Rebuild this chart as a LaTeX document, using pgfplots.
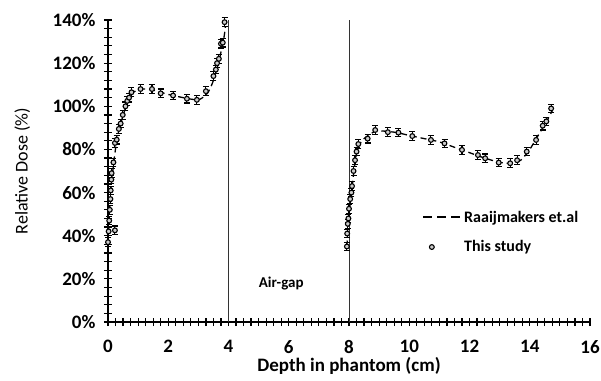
\documentclass[border=0pt]{standalone}
\usepackage{pgfplots}
\pgfplotsset{compat=1.18}
\usepackage{fontspec}
\setmainfont{Carlito}
\begin{document}
\begin{tikzpicture}
\path[use as bounding box] (-108pt,-58pt) rectangle (493pt,322pt);
\begin{axis}[
  at={(0pt,0pt)}, anchor=south west,
  scale only axis, width=482pt, height=302pt,
  xmin=0, xmax=16, ymin=0, ymax=140,
  axis lines=left, axis line style={-, line width=1.3pt},
  xtick={0,2,...,16}, ytick={0,20,...,140},
  minor x tick num=7, minor y tick num=4,
  tick align=center,
  major tick length=8pt, minor tick length=8pt,
  every tick/.style={black, line width=1.2pt},
  /pgf/number format/assume math mode=true,
  yticklabel={\pgfmathprintnumber{\tick}\%},
  ticklabel style={font=\bfseries\fontsize{19}{19}\selectfont},
  xticklabel style={yshift=-11pt},
  yticklabel style={xshift=-5pt},
  xlabel={\bfseries Depth in phantom (cm)},
  xlabel style={font=\fontsize{19}{19}\selectfont, at={(axis description cs:0.5,0)}, anchor=center, yshift=-44pt},
  ylabel={Relative Dose (\%)},
  ylabel style={font=\fontsize{18}{18}\selectfont, at={(axis description cs:-0.178,0.5)}, anchor=center},
  clip=false,
  legend cell align=left,
  legend style={draw=none, fill=none, inner sep=0pt, at={(axis cs:10.43,52.5)}, anchor=north west,
    font=\bfseries\fontsize{16}{16}\selectfont, row sep=13pt,
    /tikz/every even column/.append style={column sep=3pt}},
]
% vertical separators
\addplot[black!80, line width=0.8pt, forget plot] coordinates {(4,0) (4,140)};
\addplot[black!80, line width=0.8pt, forget plot] coordinates {(8,0) (8,140)};
% Raaijmakers (dashed)
\addplot[black, line width=1.3pt, dash pattern=on 6pt off 4pt, smooth, tension=0.4,
  legend image code/.code={\draw[black, line width=1.8pt, dash pattern=on 9pt off 5pt] (0pt,0pt) -- (38pt,0pt);}]
coordinates {
(0,37) (0.05,50) (0.1,62) (0.2,75) (0.3,85) (0.4,91) (0.6,100) (0.8,106) (1.1,108) (1.5,107.5) (2,105.5) (2.5,104) (3,103) (3.3,106) (3.5,112) (3.7,122) (3.85,132) (3.9,137)
};
\addlegendentry{Raaijmakers et.al}
\addplot[black, line width=1.3pt, dash pattern=on 6pt off 4pt, smooth, tension=0.4, forget plot]
coordinates {
(7.93,35) (8.0,50) (8.1,62) (8.2,74) (8.3,81) (8.5,85) (8.9,88.5) (9.5,88) (10,86.5) (10.5,85) (11,83.5) (11.5,81) (12,78.5) (12.5,76) (13,74) (13.4,73.5) (13.7,75) (14,80) (14.3,87) (14.6,94) (14.75,98)
};
% This study
\addplot[only marks, mark=*, mark size=2.4pt, mark options={draw=black, fill=gray!40, line width=1.1pt},
  error bars/.cd, y dir=both, y fixed=2, error mark options={rotate=90, mark size=3pt, line width=1.1pt, black},
  error bar style={line width=1.1pt, black}]
coordinates {
(0.00,37) (0.02,42) (0.04,47) (0.06,52) (0.08,57) (0.09,61) (0.11,66) (0.12,69) (0.18,74) (0.23,42.5)
(0.23,83) (0.29,84.5) (0.36,89.5) (0.42,92) (0.49,96) (0.58,100) (0.64,102.5) (0.70,104) (0.78,106.5)
(1.08,108) (1.46,108) (1.75,106) (2.16,105) (2.62,103.5) (2.95,103) (3.25,107) (3.50,114) (3.58,117)
(3.62,120) (3.68,122) (3.75,129) (3.81,129.5) (3.87,139)
};
\addlegendentry{This study}
\addplot[only marks, mark=*, mark size=2.4pt, mark options={draw=black, fill=gray!40, line width=1.1pt}, forget plot,
  error bars/.cd, y dir=both, y fixed=2, error mark options={rotate=90, mark size=3pt, line width=1.1pt, black},
  error bar style={line width=1.1pt, black}]
coordinates {
(7.93,35) (7.94,41) (7.96,45.5) (7.98,48) (8.00,52.5) (8.04,57) (8.08,60) (8.10,63) (8.15,70) (8.20,75)
(8.25,79) (8.31,82.5) (8.62,85) (8.87,89) (9.29,88) (9.64,87.8) (10.10,86.2) (10.72,84.4) (11.17,82.8)
(11.75,79.8) (12.28,77.4) (12.52,75.9) (12.97,73.9) (13.35,73.6) (13.58,75) (13.90,79) (14.21,84.4)
(14.43,91) (14.55,93) (14.71,99)
};
\node[font=\bfseries\fontsize{15}{15}\selectfont] at (axis cs:5.75,18) {Air-gap};
\end{axis}
\end{tikzpicture}
\end{document}
